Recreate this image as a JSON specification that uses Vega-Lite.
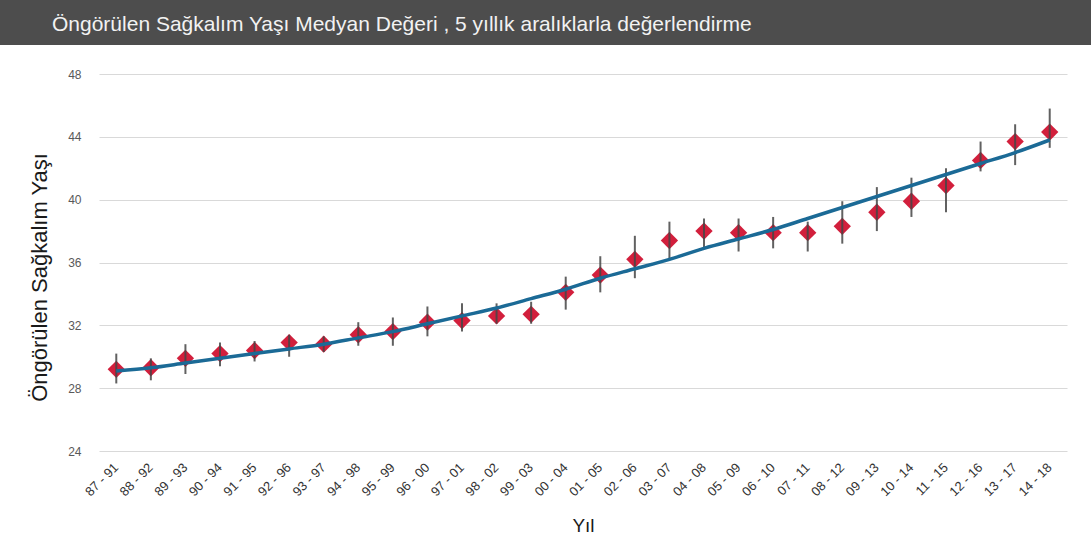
{
  "$schema": "https://vega.github.io/schema/vega-lite/v6.json",
  "background": "white",
  "padding": 0,
  "spacing": 23,
  "datasets": {
    "main": [
      {"donem": "87 - 91", "deger": 29.2, "alt": 28.3, "ust": 30.2, "egri": 29.1},
      {"donem": "88 - 92", "deger": 29.3, "alt": 28.5, "ust": 29.9, "egri": 29.3},
      {"donem": "89 - 93", "deger": 29.9, "alt": 28.9, "ust": 30.8, "egri": 29.6},
      {"donem": "90 - 94", "deger": 30.2, "alt": 29.4, "ust": 30.9, "egri": 29.9},
      {"donem": "91 - 95", "deger": 30.4, "alt": 29.7, "ust": 31.0, "egri": 30.2},
      {"donem": "92 - 96", "deger": 30.9, "alt": 30.0, "ust": 31.4, "egri": 30.5},
      {"donem": "93 - 97", "deger": 30.8, "alt": 30.3, "ust": 31.3, "egri": 30.8},
      {"donem": "94 - 98", "deger": 31.4, "alt": 30.7, "ust": 32.2, "egri": 31.2},
      {"donem": "95 - 99", "deger": 31.6, "alt": 30.7, "ust": 32.5, "egri": 31.6},
      {"donem": "96 - 00", "deger": 32.2, "alt": 31.3, "ust": 33.2, "egri": 32.1},
      {"donem": "97 - 01", "deger": 32.3, "alt": 31.6, "ust": 33.4, "egri": 32.6},
      {"donem": "98 - 02", "deger": 32.6, "alt": 32.1, "ust": 33.4, "egri": 33.1},
      {"donem": "99 - 03", "deger": 32.7, "alt": 32.1, "ust": 33.5, "egri": 33.7},
      {"donem": "00 - 04", "deger": 34.1, "alt": 33.0, "ust": 35.1, "egri": 34.3},
      {"donem": "01 - 05", "deger": 35.2, "alt": 34.1, "ust": 36.4, "egri": 35.0},
      {"donem": "02 - 06", "deger": 36.2, "alt": 35.0, "ust": 37.7, "egri": 35.6},
      {"donem": "03 - 07", "deger": 37.4, "alt": 36.2, "ust": 38.6, "egri": 36.2},
      {"donem": "04 - 08", "deger": 38.0, "alt": 36.9, "ust": 38.8, "egri": 36.9},
      {"donem": "05 - 09", "deger": 37.9, "alt": 36.7, "ust": 38.8, "egri": 37.5},
      {"donem": "06 - 10", "deger": 37.9, "alt": 36.9, "ust": 38.9, "egri": 38.1},
      {"donem": "07 - 11", "deger": 37.9, "alt": 36.7, "ust": 38.6, "egri": 38.8},
      {"donem": "08 - 12", "deger": 38.3, "alt": 37.2, "ust": 39.9, "egri": 39.5},
      {"donem": "09 - 13", "deger": 39.2, "alt": 38.0, "ust": 40.8, "egri": 40.2},
      {"donem": "10 - 14", "deger": 39.9, "alt": 38.9, "ust": 41.4, "egri": 40.9},
      {"donem": "11 - 15", "deger": 40.9, "alt": 39.2, "ust": 42.0, "egri": 41.6},
      {"donem": "12 - 16", "deger": 42.5, "alt": 41.8, "ust": 43.7, "egri": 42.3},
      {"donem": "13 - 17", "deger": 43.7, "alt": 42.2, "ust": 44.8, "egri": 43.0},
      {"donem": "14 - 18", "deger": 44.3, "alt": 43.3, "ust": 45.8, "egri": 43.8}
    ]
  },
  "vconcat": [
    {
      "width": 1091,
      "height": 45,
      "data": {"values": []},
      "mark": "point",
      "view": {"fill": "#4d4d4d", "stroke": null},
      "title": {
        "text": "Öngörülen Sağkalım Yaşı Medyan Değeri , 5 yıllık aralıklarla değerlendirme",
        "anchor": "start",
        "frame": "group",
        "orient": "top",
        "offset": -31,
        "dx": 52,
        "dy": 21,
        "baseline": "alphabetic",
        "font": "Liberation Sans",
        "fontSize": 21,
        "fontWeight": "normal",
        "color": "#f2f2f2"
      }
    },
    {
      "spacing": 27,
      "hconcat": [
        {
          "width": 1,
          "height": 1,
          "data": {"values": []},
          "mark": "point"
        },
        {
          "width": 968,
          "height": 377,
          "data": {"name": "main"},
          "encoding": {
            "x": {
              "field": "donem",
              "type": "ordinal",
              "sort": null,
              "scale": {"paddingInner": 0, "paddingOuter": 0},
              "axis": {
                "title": "Yıl",
                "labelAngle": -45,
                "labelAlign": "right",
                "labelBaseline": "middle",
                "labelFont": "Liberation Sans",
                "labelFontSize": 13,
                "labelColor": "#333333",
                "labelPadding": 14,
                "ticks": false,
                "domain": false,
                "grid": false,
                "titleFont": "Liberation Sans",
                "titleFontSize": 19,
                "titleFontWeight": "normal",
                "titleColor": "#1a1a1a",
                "titlePadding": 18
              }
            }
          },
          "layer": [
            {
              "mark": {"type": "point", "shape": "diamond", "filled": true, "size": 300, "color": "#d21f3c", "opacity": 1},
              "encoding": {
                "y": {
                  "field": "deger",
                  "type": "quantitative",
                  "scale": {"domain": [24, 48], "nice": false, "zero": false},
                  "axis": {
                    "title": "Öngörülen Sağkalım Yaşı",
                    "values": [24, 28, 32, 36, 40, 44, 48],
                    "labelFont": "Liberation Sans",
                    "labelFontSize": 12,
                    "labelColor": "#595959",
                    "labelPadding": 18,
                    "ticks": false,
                    "domain": false,
                    "grid": true,
                    "gridColor": "#d9d9d9",
                    "gridWidth": 1,
                    "titleFont": "Liberation Sans",
                    "titleFontSize": 22,
                    "titleFontWeight": "normal",
                    "titleColor": "#1a1a1a",
                    "titlePadding": 16,
                    "titleY": 203
                  }
                }
              }
            },
            {
              "mark": {"type": "rule", "color": "#454545", "strokeWidth": 2, "opacity": 0.85},
              "encoding": {
                "y": {"field": "alt", "type": "quantitative"},
                "y2": {"field": "ust"}
              }
            },
            {
              "mark": {"type": "line", "color": "#1b6a96", "strokeWidth": 3.5, "interpolate": "monotone"},
              "encoding": {
                "y": {"field": "egri", "type": "quantitative"}
              }
            }
          ]
        }
      ]
    }
  ],
  "config": {
    "view": {"stroke": null},
    "font": "Liberation Sans"
  }
}
